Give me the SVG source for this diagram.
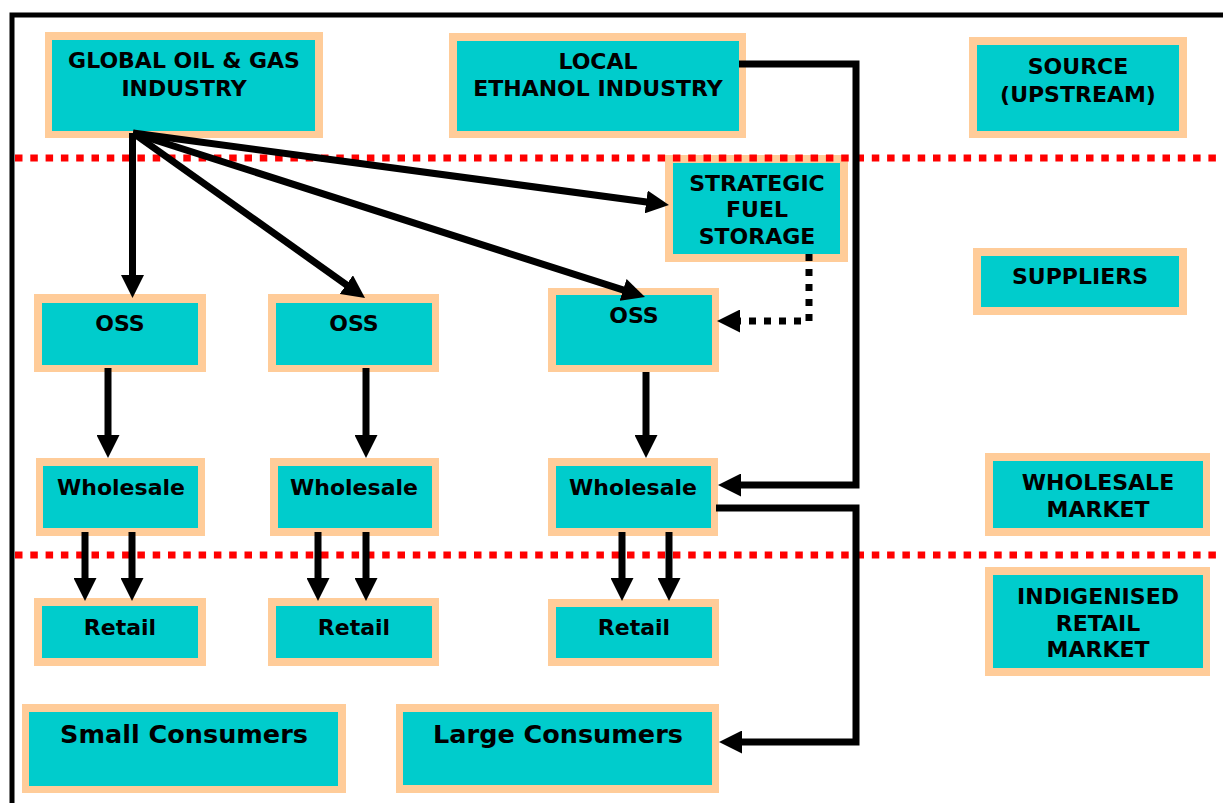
<svg xmlns="http://www.w3.org/2000/svg" width="1223" height="803" viewBox="0 0 1223 803">
<defs>
<style>
.o{fill:#FFCC99}
.i{fill:#00CCCC}
.t{font-family:"DejaVu Sans","Liberation Sans",sans-serif;font-weight:bold;font-size:22px;fill:#000;text-anchor:middle}
.big{font-size:25.5px}
.c{fill:none;stroke:#000;stroke-width:7;stroke-linejoin:miter}
.dot{stroke-dasharray:7 8}
.red{fill:none;stroke:#FF0000;stroke-width:7;stroke-dasharray:7.5 7.8}
</style>
<marker id="ah" viewBox="0 0 23 23" refX="8" refY="11.5" markerWidth="23" markerHeight="23" markerUnits="userSpaceOnUse" orient="auto">
<path d="M0,0 L23,11.5 L0,23 Z" fill="#000"/>
</marker>
</defs>
<rect width="1223" height="803" fill="#fff"/>
<path d="M12,803 V15 H1223" fill="none" stroke="#000" stroke-width="5"/>

<g id="global"><rect class="o" x="45" y="32" width="278" height="106"/><rect class="i" x="52" y="40" width="263" height="91"/><text class="t" x="184" y="68">GLOBAL OIL &amp; GAS</text><text class="t" x="184" y="96">INDUSTRY</text></g>
<g id="ethanol"><rect class="o" x="449" y="33" width="297" height="105"/><rect class="i" x="457" y="41" width="282" height="90"/><text class="t" x="598" y="69">LOCAL</text><text class="t" x="598" y="96">ETHANOL INDUSTRY</text></g>
<g id="source"><rect class="o" x="969" y="37" width="218" height="101"/><rect class="i" x="977" y="45" width="202" height="86"/><text class="t" x="1078" y="74">SOURCE</text><text class="t" x="1078" y="102">(UPSTREAM)</text></g>
<g id="strategic"><rect class="o" x="665" y="155" width="183" height="107"/><rect class="i" x="673" y="163" width="167" height="91"/><text class="t" x="757" y="191">STRATEGIC</text><text class="t" x="757" y="217">FUEL</text><text class="t" x="757" y="244">STORAGE</text></g>
<g id="suppliers"><rect class="o" x="973" y="248" width="214" height="67"/><rect class="i" x="981" y="256" width="198" height="51"/><text class="t" x="1080" y="284">SUPPLIERS</text></g>
<g id="oss1"><rect class="o" x="34" y="294" width="172" height="78"/><rect class="i" x="42" y="303" width="156" height="62"/><text class="t" x="120" y="331">OSS</text></g>
<g id="oss2"><rect class="o" x="268" y="294" width="171" height="78"/><rect class="i" x="276" y="303" width="156" height="62"/><text class="t" x="354" y="331">OSS</text></g>
<g id="oss3"><rect class="o" x="548" y="288" width="171" height="84"/><rect class="i" x="556" y="295" width="156" height="70"/><text class="t" x="634" y="323">OSS</text></g>
<g id="wholesale1"><rect class="o" x="36" y="458" width="169" height="78"/><rect class="i" x="43" y="466" width="155" height="62"/><text class="t" x="121" y="495">Wholesale</text></g>
<g id="wholesale2"><rect class="o" x="270" y="458" width="169" height="78"/><rect class="i" x="278" y="466" width="154" height="62"/><text class="t" x="354" y="495">Wholesale</text></g>
<g id="wholesale3"><rect class="o" x="548" y="458" width="170" height="78"/><rect class="i" x="556" y="466" width="155" height="62"/><text class="t" x="633" y="495">Wholesale</text></g>
<g id="wholesale-market"><rect class="o" x="985" y="453" width="225" height="83"/><rect class="i" x="993" y="461" width="210" height="67"/><text class="t" x="1098" y="490">WHOLESALE</text><text class="t" x="1098" y="517">MARKET</text></g>
<g id="retail1"><rect class="o" x="34" y="598" width="172" height="68"/><rect class="i" x="42" y="606" width="156" height="52"/><text class="t" x="120" y="635">Retail</text></g>
<g id="retail2"><rect class="o" x="268" y="598" width="171" height="68"/><rect class="i" x="276" y="606" width="156" height="52"/><text class="t" x="354" y="635">Retail</text></g>
<g id="retail3"><rect class="o" x="548" y="599" width="171" height="67"/><rect class="i" x="556" y="607" width="156" height="51"/><text class="t" x="634" y="635">Retail</text></g>
<g id="indigenised"><rect class="o" x="985" y="567" width="225" height="109"/><rect class="i" x="993" y="575" width="210" height="93"/><text class="t" x="1098" y="604">INDIGENISED</text><text class="t" x="1098" y="631">RETAIL</text><text class="t" x="1098" y="657">MARKET</text></g>
<g id="small-consumers"><rect class="o" x="22" y="704" width="324" height="89"/><rect class="i" x="29" y="712" width="309" height="74"/><text class="t big" x="184" y="743">Small Consumers</text></g>
<g id="large-consumers"><rect class="o" x="396" y="704" width="323" height="89"/><rect class="i" x="403" y="712" width="309" height="73"/><text class="t big" x="558" y="743">Large Consumers</text></g>

<g id="dividers">
<path class="red" d="M15,158 H1223"/>
<path class="red" d="M15,555 H1223"/>
</g>

<g id="connectors">
<path class="c" marker-end="url(#ah)" d="M132.5,133 V283"/>
<path class="c" marker-end="url(#ah)" d="M133,133 L352.8,289.3"/>
<path class="c" marker-end="url(#ah)" d="M133,133 L630.7,292.4"/>
<path class="c" marker-end="url(#ah)" d="M133,133 L654.1,203"/>
<path class="c" marker-end="url(#ah)" d="M108,368 V443"/>
<path class="c" marker-end="url(#ah)" d="M366,368 V443"/>
<path class="c" marker-end="url(#ah)" d="M646,372 V443"/>
<path class="c" marker-end="url(#ah)" d="M85,532 V586"/>
<path class="c" marker-end="url(#ah)" d="M132,532 V586"/>
<path class="c" marker-end="url(#ah)" d="M318,532 V586"/>
<path class="c" marker-end="url(#ah)" d="M366,532 V586"/>
<path class="c" marker-end="url(#ah)" d="M622,532 V586"/>
<path class="c" marker-end="url(#ah)" d="M669,532 V586"/>
<path class="c" marker-end="url(#ah)" d="M739,64 H856 V485 H733"/>
<path class="c" marker-end="url(#ah)" d="M716,508 H856 V742 H734"/>
<path class="c dot" marker-end="url(#ah)" d="M809,254 V321 H732"/>
</g>
</svg>
